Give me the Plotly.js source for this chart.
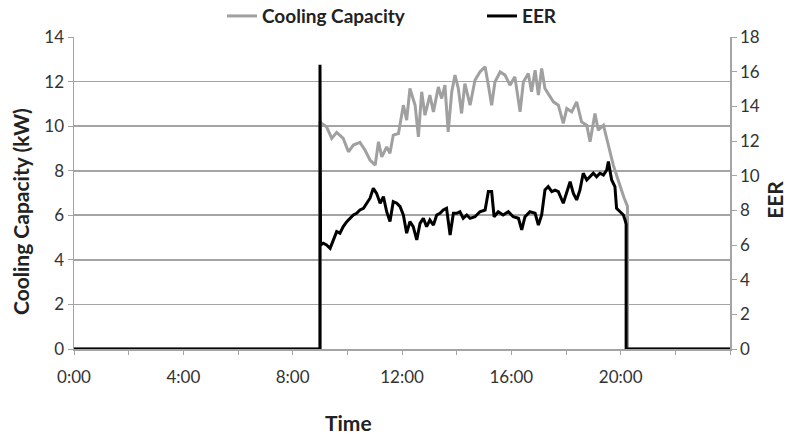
<!DOCTYPE html>
<html>
<head>
<meta charset="utf-8">
<script src="https://cdn.plot.ly/plotly-3.0.1.min.js"></script>
<style>
  html, body { margin: 0; padding: 0; background: #fff; }
  #chart { width: 787px; height: 434px; }
</style>
</head>
<body>
<div id="chart"></div>
<script>
// ---- data (time in hours of day) ----
const capTime = [0, 9.0, 9.0, 9.06, 9.24, 9.43, 9.61, 9.85, 10.04, 10.22, 10.46, 10.65, 10.83,
  11.02, 11.14, 11.26, 11.44, 11.56, 11.68, 11.87, 12.05, 12.17, 12.29, 12.48, 12.6, 12.72, 12.84,
  13.02, 13.15, 13.33, 13.45, 13.57, 13.69, 13.82, 13.94, 14.06, 14.18, 14.3, 14.49, 14.67, 14.85,
  15.04, 15.16, 15.28, 15.4, 15.59, 15.77, 15.95, 16.13, 16.32, 16.44, 16.62, 16.74, 16.87, 16.99,
  17.11, 17.23, 17.35, 17.54, 17.72, 17.9, 18.03, 18.21, 18.39, 18.57, 18.76, 18.88,
  19.06, 19.18, 19.37, 19.49, 19.61, 19.73, 19.85, 20.0, 20.12, 20.25, 20.25, 24];
const capValues = [0, 0, 10.2, 10.12, 9.97, 9.45, 9.72, 9.45, 8.85, 9.15, 9.27, 8.92, 8.48,
  8.25, 9.3, 8.62, 9.07, 8.78, 9.6, 9.67, 10.94, 10.27, 11.69, 10.94, 9.52, 11.54, 10.49,
  11.39, 10.64, 11.76, 11.24, 11.84, 9.74, 11.54, 12.29, 11.69, 10.57, 11.91, 10.94, 12.06, 12.43,
  12.66, 11.84, 10.94, 11.98, 12.43, 12.29, 11.84, 12.21, 10.64, 11.98, 12.36, 11.54, 12.51, 11.39,
  12.59, 11.69, 11.47, 11.09, 10.94, 10.12, 10.79, 10.64, 11.09, 10.19, 10.04, 9.3,
  10.57, 9.82, 10.04, 9.45, 8.85, 8.25, 7.8, 7.2, 6.8, 6.4, 0, 0];

const eerTime = [0, 9.0, 9.0, 9.02, 9.12, 9.24, 9.37, 9.49, 9.61, 9.73, 9.85, 9.98,
  10.1, 10.22, 10.34, 10.46, 10.59, 10.71, 10.83, 10.95, 11.07, 11.2, 11.32, 11.44, 11.56, 11.68, 11.81, 11.93,
  12.05, 12.17, 12.29, 12.41, 12.54, 12.66, 12.78, 12.9, 13.02, 13.15, 13.27, 13.39, 13.51, 13.63, 13.76, 13.88,
  14.0, 14.12, 14.24, 14.37, 14.49, 14.67, 14.85, 15.04, 15.16, 15.28, 15.37, 15.52, 15.7, 15.89,
  16.07, 16.26, 16.38, 16.5, 16.68, 16.87, 16.99, 17.11, 17.23, 17.35, 17.48, 17.6, 17.72, 17.9,
  18.03, 18.15, 18.27, 18.39, 18.51, 18.63, 18.76, 18.88, 19.0, 19.12, 19.24, 19.37, 19.49, 19.55,
  19.67, 19.79, 19.85, 19.98, 20.1, 20.16, 20.2, 20.2, 24];
const eerValues = [0, 0, 16.4, 6.0, 6.1, 6.0, 5.81, 6.29, 6.77, 6.68, 7.06, 7.35,
  7.54, 7.73, 7.83, 8.02, 8.12, 8.41, 8.7, 9.27, 8.98, 8.41, 8.79, 7.92, 7.35, 8.5, 8.41, 8.21,
  7.73, 6.68, 7.35, 7.06, 6.29, 7.25, 7.54, 7.06, 7.44, 7.15, 7.73, 7.83, 8.02, 8.12, 6.58, 7.83,
  7.83, 7.92, 7.54, 7.73, 7.54, 7.63, 7.92, 8.02, 9.08, 9.08, 7.63, 7.92, 7.73, 7.92,
  7.63, 7.54, 6.87, 7.63, 7.92, 7.83, 7.15, 7.73, 9.17, 9.37, 9.08, 9.17, 9.08, 8.41,
  9.08, 9.65, 8.98, 8.6, 9.17, 10.14, 9.75, 9.94, 10.14, 9.94, 10.14, 10.04, 10.33, 10.81,
  9.75, 9.37, 8.12, 7.92, 7.73, 7.44, 7.2, 0, 0];

const xTickVals = [0, 2, 4, 6, 8, 10, 12, 14, 16, 18, 20, 22, 24];
const xTickText = ['0:00', '', '4:00', '', '8:00', '', '12:00', '', '16:00', '', '20:00', '', ''];
const seriesNames = ['Cooling Capacity', 'EER'];
const axisTitles = {y: 'Cooling Capacity (kW)', y2: 'EER', x: 'Time'};

const FONT = 'Lato, "Open Sans", "DejaVu Sans", sans-serif';
const GRID = '#a4a4a4';

const traces = [
  {x: capTime, y: capValues, name: seriesNames[0], type: 'scatter', mode: 'lines',
   line: {color: '#a0a0a0', width: 3}, yaxis: 'y'},
  {x: eerTime, y: eerValues, name: seriesNames[1], type: 'scatter', mode: 'lines',
   line: {color: '#000000', width: 3}, yaxis: 'y2'}
];

const layout = {
  width: 787, height: 434,
  margin: {l: 74, r: 57, t: 37, b: 85, autoexpand: false},
  paper_bgcolor: '#fff', plot_bgcolor: '#fff',
  font: {family: FONT, color: '#333', size: 17},
  showlegend: true,
  legend: {orientation: 'h', x: 0.2256, xanchor: 'left', y: 1.067, yanchor: 'middle',
           font: {family: FONT, size: 19, color: '#222', weight: 'bold'},
           entrywidth: 215, entrywidthmode: 'pixels', bgcolor: 'rgba(0,0,0,0)'},
  xaxis: {range: [0, 24], tickmode: 'array', tickvals: xTickVals, ticktext: xTickText,
          ticks: 'outside', ticklen: 4, tickcolor: GRID, tickwidth: 1, ticklabelstandoff: 8,
          showline: true, linecolor: GRID, linewidth: 1.5, showgrid: false, zeroline: false,
          tickfont: {size: 17, color: '#333'}},
  yaxis: {range: [0, 14], dtick: 2, ticks: 'outside', ticklen: 5, tickcolor: GRID,
          showline: true, linecolor: GRID, linewidth: 1.5, showgrid: true, gridcolor: GRID,
          gridwidth: 1.6, zeroline: false, tickfont: {size: 17, color: '#333'}},
  yaxis2: {range: [0, 18], dtick: 2, overlaying: 'y', side: 'right', ticks: 'outside',
           ticklen: 5, tickcolor: GRID, showline: true, linecolor: GRID, linewidth: 1.5,
           showgrid: false, zeroline: false, tickfont: {size: 17, color: '#333'}},
  annotations: [
    {text: axisTitles.y, xref: 'paper', yref: 'paper', x: -0.0823, y: 0.439, textangle: -90,
     xanchor: 'center', yanchor: 'middle',
     showarrow: false, font: {family: FONT, size: 21, color: '#222', weight: 'bold'}},
    {text: axisTitles.y2, xref: 'paper', yref: 'paper', x: 1.0686, y: 0.478, textangle: -90,
     xanchor: 'center', yanchor: 'middle',
     showarrow: false, font: {family: FONT, size: 21, color: '#222', weight: 'bold'}},
    {text: axisTitles.x, xref: 'paper', yref: 'paper', x: 0.4177, y: -0.237,
     xanchor: 'center', yanchor: 'middle',
     showarrow: false, font: {family: FONT, size: 21, color: '#222', weight: 'bold'}}
  ]
};

Plotly.newPlot('chart', traces, layout, {displayModeBar: false, staticPlot: true});
</script>
</body>
</html>
